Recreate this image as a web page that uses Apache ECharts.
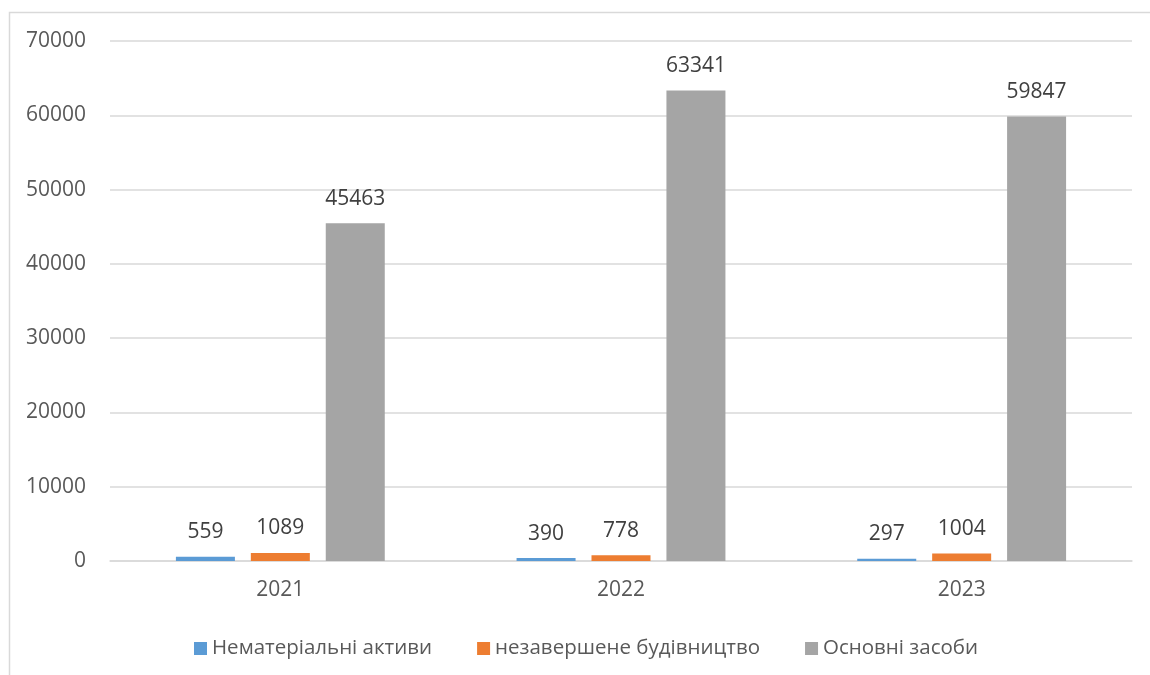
<!DOCTYPE html>
<html><head><meta charset="utf-8">
<script src="https://cdn.jsdelivr.net/npm/echarts@6/dist/echarts.min.js"></script>
<style>html,body{margin:0;padding:0;background:#fff}#c{width:1150px;height:675px}</style>
</head><body><div id="c"></div>
<script>
const categories = ['2021', '2022', '2023'];
const intangible = [559, 390, 297];
const construction = [1089, 778, 1004];
const fixedAssets = [45463, 63341, 59847];
const seriesNames = ['Нематеріальні активи', 'незавершене будівництво', 'Основні засоби'];

const FONT = '"Open Sans", "Noto Sans", sans-serif';
const FS = 21;
const chart = echarts.init(document.getElementById('c'));
const label = {show: true, position: 'top', distance: 14, color: '#404040', fontSize: FS, fontFamily: FONT};
chart.setOption({
  animation: false,
  graphic: [{type: 'rect', shape: {x: 9.5, y: 12.5, width: 1200, height: 700}, style: {fill: 'none', stroke: '#d9d9d9', lineWidth: 1.5}, silent: true}],
  grid: {left: 110, right: 18, top: 41, bottom: 114, containLabel: false},
  legend: {
    left: 189, top: 633, itemWidth: 13, itemHeight: 13, itemGap: 45,
    icon: 'rect',
    textStyle: {color: '#595959', fontSize: 20.5, fontFamily: FONT},
    data: seriesNames
  },
  xAxis: {
    type: 'category', data: categories,
    axisLine: {lineStyle: {color: '#d9d9d9', width: 1.5}},
    axisTick: {show: false},
    axisLabel: {color: '#595959', fontSize: FS, fontFamily: FONT, margin: 19}
  },
  yAxis: {
    type: 'value', min: 0, max: 70000, interval: 10000,
    axisLine: {show: false}, axisTick: {show: false},
    splitLine: {lineStyle: {color: '#d9d9d9', width: 1.5}},
    axisLabel: {color: '#595959', fontSize: FS, fontFamily: FONT, margin: 24, formatter: v => String(v)}
  },
  series: [
    {name: seriesNames[0], type: 'bar', data: intangible, barWidth: 59, barGap: '27%', itemStyle: {color: '#5b9bd5'}, label},
    {name: seriesNames[1], type: 'bar', data: construction, barWidth: 59, barGap: '27%', itemStyle: {color: '#ed7d31'}, label},
    {name: seriesNames[2], type: 'bar', data: fixedAssets, barWidth: 59, barGap: '27%', itemStyle: {color: '#a5a5a5'}, label}
  ]
});
</script></body></html>
